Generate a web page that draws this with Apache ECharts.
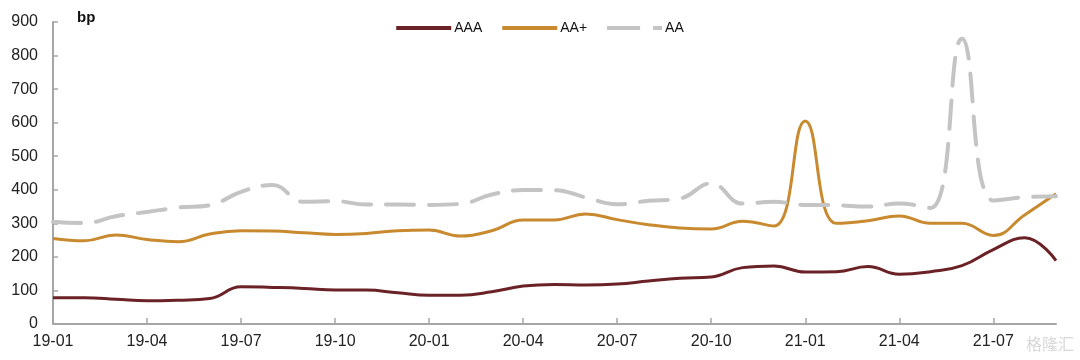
<!DOCTYPE html>
<html>
<head>
<meta charset="utf-8">
<script src="https://cdn.jsdelivr.net/npm/echarts@6/dist/echarts.min.js"></script>
<style>
html,body{margin:0;padding:0;background:#fff;}
#c{width:1080px;height:360px;}
</style>
</head>
<body>
<div id="c"></div>
<script>
var categories = ['19-01','19-02','19-03','19-04','19-05','19-06','19-07','19-08','19-09','19-10','19-11','19-12',
  '20-01','20-02','20-03','20-04','20-05','20-06','20-07','20-08','20-09','20-10','20-11','20-12',
  '21-01','21-02','21-03','21-04','21-05','21-06','21-07','21-08','21-09'];
var seriesNames = ['AAA','AA+','AA'];
var aaa = [78,78,74,69,71,76,111,109,106,101,101,93,86,86,96,113,118,116,119,128,136,140,168,173,155,156,171,148,156,174,222,257,189];
var aaPlus = [255,248,265,252,245,268,278,277,272,267,270,278,280,262,278,310,310,328,311,296,286,283,306,292,605,300,308,322,300,300,264,325,388];
var aa = [305,301,321,334,347,354,394,414,364,366,356,356,355,358,386,399,399,377,357,367,374,419,359,364,355,354,350,359,346,850,368,378,381];
var yTicks = {min:0, max:900, interval:100};

var axisColor = '#A6A6A6';
var chart = echarts.init(document.getElementById('c'), null, {renderer:'canvas'});
chart.setOption({
  animation:false,
  backgroundColor:'#fff',
  grid:{left:53, right:24, top:22, bottom:36, containLabel:false},
  legend:{
    top:16, left:'center',
    itemWidth:55, itemHeight:4, itemGap:20,
    textStyle:{fontFamily:'"Liberation Sans Narrow","Liberation Sans",Arial,sans-serif', fontSize:14, color:'#111', padding:[0,0,0,-2]},
    data:[
      {name:seriesNames[0], icon:'path://M0,0 L55,0 L55,4 L0,4 Z'},
      {name:seriesNames[1], icon:'path://M0,0 L55,0 L55,4 L0,4 Z'},
      {name:seriesNames[2], icon:'path://M0,0 L33,0 L33,4 L0,4 Z M46,0 L55,0 L55,4 L46,4 Z'}
    ]
  },
  graphic:[
    {type:'text', left:77, top:10, style:{text:'bp', font:'bold 15px "Liberation Sans",Arial,sans-serif', fill:'#111'}},
    {type:'text', right:6, top:336, style:{text:'格隆汇', font:'16px "Noto Sans CJK SC",sans-serif', fill:'#D8D8D8'}}
  ],
  xAxis:{
    type:'category', data:categories, boundaryGap:false,
    axisLine:{lineStyle:{color:axisColor, width:2}},
    axisTick:{show:true, inside:true, length:6, interval:2, lineStyle:{color:axisColor, width:1.5}},
    axisLabel:{interval:2, margin:10, fontSize:16, color:'#222', fontFamily:'"Liberation Sans",Arial,sans-serif'},
    splitLine:{show:false}
  },
  yAxis:{
    type:'value', min:yTicks.min, max:yTicks.max, interval:yTicks.interval,
    axisLine:{show:true, lineStyle:{color:axisColor, width:2}},
    axisTick:{show:true, inside:true, length:5, lineStyle:{color:axisColor, width:1.5}},
    axisLabel:{margin:15, fontSize:16, color:'#222', fontFamily:'"Liberation Sans",Arial,sans-serif'},
    splitLine:{show:false}
  },
  series:[
    {name:seriesNames[0], type:'line', data:aaa, smooth:0.45, showSymbol:false, symbol:'none',
     lineStyle:{color:'#6B2226', width:3}, itemStyle:{color:'#6B2226'}},
    {name:seriesNames[1], type:'line', data:aaPlus, smooth:0.45, showSymbol:false, symbol:'none',
     lineStyle:{color:'#C8892F', width:3}, itemStyle:{color:'#C8892F'}},
    {name:seriesNames[2], type:'line', data:aa, smooth:0.45, showSymbol:false, symbol:'none',
     lineStyle:{color:'#C4C4C4', width:4, type:[28,15], cap:'round'}, itemStyle:{color:'#C4C4C4'}}
  ]
});
</script>
</body>
</html>
